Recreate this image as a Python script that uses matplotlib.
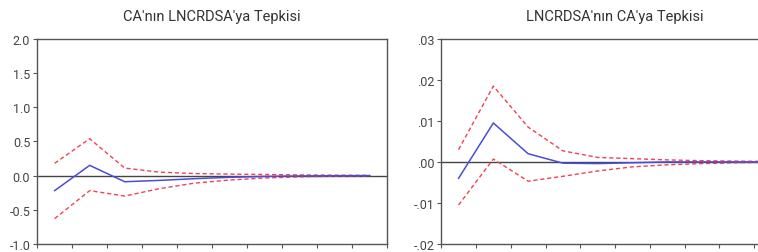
"""Impulse response panels: CA and LNCRDSA."""

import matplotlib
matplotlib.use("Agg")
import matplotlib.pyplot as plt
import numpy as np

plt.rcParams["font.family"] = ["Roboto", "DejaVu Sans"]

periods = np.arange(1, 11)

# CA'nin LNCRDSA'ya tepkisi
left_resp = [-0.22, 0.15, -0.09, -0.07, -0.045, -0.025, -0.012, -0.005, -0.002, 0.0]
left_upper = [0.18, 0.54, 0.11, 0.05, 0.03, 0.022, 0.016, 0.01, 0.006, 0.003]
left_lower = [-0.63, -0.22, -0.30, -0.19, -0.11, -0.065, -0.035, -0.018, -0.009, -0.004]
left_yticks = [-1.0, -0.5, 0.0, 0.5, 1.0, 1.5, 2.0]
left_ylabels = ["-1.0", "-0.5", "0.0", "0.5", "1.0", "1.5", "2.0"]

# LNCRDSA'nin CA'ya tepkisi
right_resp = [-0.004, 0.0095, 0.002, -0.0003, -0.0004, -0.0002, 0.0, 0.0, 0.0, 0.0]
right_upper = [0.003, 0.0185, 0.0085, 0.0027, 0.0011, 0.0008, 0.0005, 0.0003, 0.0002, 0.0001]
right_lower = [-0.0105, 0.0007, -0.0047, -0.0035, -0.0022, -0.0012, -0.0007, -0.0004, -0.0002, -0.0001]
right_yticks = [-0.02, -0.01, 0.0, 0.01, 0.02, 0.03]
right_ylabels = ["-.02", "-.01", ".00", ".01", ".02", ".03"]

BLUE = "#4b4bdc"
RED = "#f0424f"
FRAME = "#555555"

fig = plt.figure(figsize=(7.58, 2.53), dpi=100)
ax_left = fig.add_axes([0.049, 0.032, 0.462, 0.810])
ax_right = fig.add_axes([0.582, 0.032, 0.459, 0.810])

panels = [
    (ax_left, "CA'nın LNCRDSA'ya Tepkisi", left_resp, left_upper, left_lower,
     left_yticks, left_ylabels, (-1.0, 2.0)),
    (ax_right, "LNCRDSA'nın CA'ya Tepkisi", right_resp, right_upper, right_lower,
     right_yticks, right_ylabels, (-0.02, 0.03)),
]

for ax, title, resp, upper, lower, yticks, ylabels, ylim in panels:
    ax.axhline(0, color="#444444", lw=1.0, zorder=1)
    ax.plot(periods, upper, color=RED, lw=1.0, ls=(0, (3, 2)), zorder=2)
    ax.plot(periods, lower, color=RED, lw=1.0, ls=(0, (3, 2)), zorder=2)
    ax.plot(periods, resp, color=BLUE, lw=1.1, zorder=3)
    ax.set_xlim(0.5, 10.5)
    ax.set_ylim(*ylim)
    ax.set_xticks(np.arange(0.5, 11, 1.0))
    ax.set_xticklabels([])
    ax.set_yticks(yticks)
    ax.set_yticklabels(ylabels)
    ax.tick_params(axis="both", direction="out", length=3, width=0.8,
                   color=FRAME, labelsize=9, labelcolor="#444444", pad=2)
    for spine in ax.spines.values():
        spine.set_color(FRAME)
        spine.set_linewidth(1.0)
    ax.set_title(title, fontsize=10.5, color="#333333", pad=14)

fig.savefig("out.png", dpi=100)
